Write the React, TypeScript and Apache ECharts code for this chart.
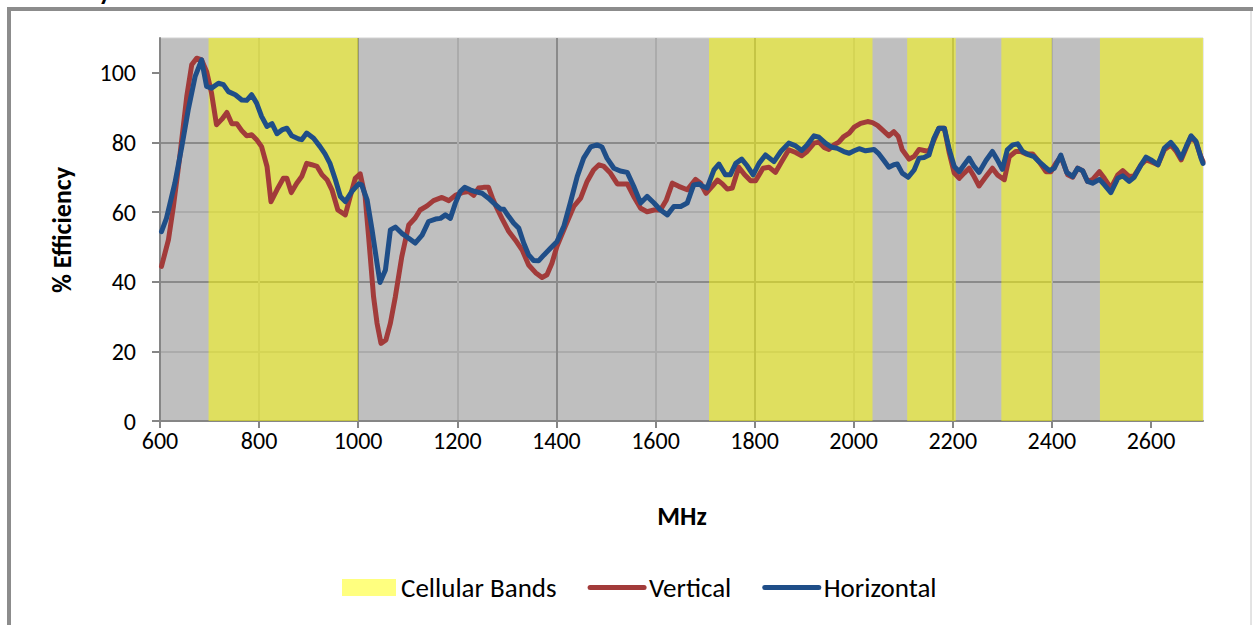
import React, { useEffect, useRef } from "react";
import * as echarts from "echarts";

// Measured radiated efficiency (%) against frequency (MHz), two polarisations
const verticalSeries: number[][] = [
  [603, 44.4], [617, 52], [627, 61.6], [640, 76], [654, 93.2], [664, 102.3], [674, 104.2], [684, 103.7],
  [694, 100.4], [704, 94.2], [714, 85.1], [725, 86.7], [735, 88.6], [745, 85.4], [755, 85.4], [765, 83.4],
  [775, 81.9], [785, 82.2], [795, 80.8], [805, 78.8], [816, 73.1], [824, 63.0], [836, 66.4], [849, 69.7],
  [856, 69.7], [865, 65.6], [876, 68.3], [886, 70.2], [896, 74.0], [906, 73.6], [917, 73.1], [927, 70.7],
  [937, 69.3], [947, 66.4], [959, 60.6], [974, 59.2], [984, 64.5], [994, 69.7], [1004, 71], [1014, 64.5],
  [1021, 53], [1031, 35.7], [1038, 28.1], [1046, 22.3], [1056, 23.3], [1065, 28.1], [1075, 35.7], [1088, 47.2],
  [1102, 56.3], [1115, 58.3], [1125, 60.6], [1139, 61.8], [1152, 63.3], [1169, 64.2], [1183, 63.3], [1196, 64.8],
  [1210, 65.6], [1223, 65.9], [1233, 64.8], [1243, 66.9], [1253, 67.1], [1263, 67.1], [1271, 64], [1280, 61.1],
  [1290, 58.2], [1304, 54.4], [1317, 52], [1331, 49.1], [1344, 44.8], [1358, 42.6], [1371, 41.2], [1381, 42],
  [1391, 45.3], [1401, 50.1], [1418, 55.9], [1435, 61.6], [1449, 64], [1462, 68.8], [1475, 72.1], [1486, 73.6],
  [1496, 73.1], [1509, 71.2], [1523, 68.1], [1543, 68.1], [1556, 64.5], [1570, 61.1], [1583, 60.1], [1597, 60.6],
  [1610, 60.6], [1622, 63.5], [1634, 68.3], [1647, 67.4], [1664, 66.4], [1681, 69.4], [1691, 68.3], [1702, 65.4],
  [1714, 67.3], [1725, 69.2], [1735, 68.1], [1745, 66.6], [1755, 66.9], [1768, 72.9], [1780, 70.7], [1792, 69.0],
  [1802, 69.0], [1817, 72.6], [1829, 72.9], [1842, 71.4], [1856, 74.8], [1869, 77.9], [1883, 77.1], [1895, 76.2],
  [1906, 77.4], [1920, 79.8], [1930, 80.1], [1940, 78.6], [1950, 78.0], [1960, 79.3], [1970, 80.1], [1980, 81.7],
  [1991, 82.7], [2001, 84.4], [2014, 85.5], [2028, 86], [2038, 85.7], [2048, 84.9], [2058, 83.6], [2071, 81.9],
  [2081, 83.1], [2090, 81.7], [2098, 77.9], [2112, 75.2], [2122, 76], [2132, 78.0], [2142, 77.7], [2152, 77.4],
  [2162, 80.7], [2172, 84.1], [2183, 84.1], [2193, 76.9], [2203, 71.2], [2213, 69.7], [2223, 71.2], [2233, 72.6],
  [2243, 70.2], [2253, 67.5], [2267, 70.2], [2280, 72.6], [2290, 70.7], [2304, 69.3], [2314, 75.9], [2327, 77.4],
  [2337, 77.4], [2348, 76.7], [2361, 76.7], [2374, 74.5], [2388, 71.6], [2398, 71.6], [2408, 74], [2418, 75.9],
  [2432, 70.7], [2442, 70], [2452, 72.6], [2462, 71.9], [2472, 68.8], [2482, 69.3], [2496, 71.6], [2506, 69.7],
  [2519, 66.9], [2533, 70.7], [2543, 71.9], [2556, 70.2], [2566, 70.4], [2580, 73.6], [2590, 75], [2600, 74.5],
  [2614, 73.6], [2627, 77.9], [2640, 79.3], [2651, 77.4], [2661, 75], [2671, 78.4], [2681, 81.7], [2691, 80],
  [2701, 75.8], [2705, 74.5],
];

const horizontalSeries: number[][] = [
  [603, 54.4], [613, 58.2], [630, 68.3], [644, 78.8], [657, 89.4], [671, 99], [684, 103.7], [694, 96.1],
  [704, 95.6], [718, 97.0], [728, 96.6], [738, 94.6], [752, 93.7], [765, 92.2], [775, 92.1], [785, 93.7],
  [795, 91.3], [805, 87.5], [816, 84.6], [826, 85.4], [836, 82.5], [846, 83.6], [856, 84.1], [866, 81.9],
  [880, 81], [886, 80.8], [896, 82.7], [910, 81.2], [923, 78.8], [933, 76.7], [943, 74.0], [954, 69.3],
  [964, 64.5], [974, 63.0], [987, 65.9], [1001, 68.1], [1007, 67.8], [1018, 63.5], [1028, 54.9], [1038, 45.3],
  [1044, 39.8], [1055, 43.4], [1065, 54.9], [1075, 55.7], [1088, 53.9], [1102, 52.5], [1115, 51.1], [1129, 53.4],
  [1142, 57.3], [1156, 58.0], [1166, 58.2], [1176, 59.2], [1186, 58.2], [1196, 62.5], [1206, 65.9], [1215, 67.1],
  [1226, 66.4], [1236, 65.9], [1250, 65.4], [1263, 64], [1277, 62.1], [1287, 60.9], [1294, 60.8], [1304, 58.7],
  [1314, 56.8], [1324, 55.4], [1334, 51.1], [1344, 47.7], [1354, 46.1], [1364, 46.0], [1375, 47.7], [1388, 49.6],
  [1401, 51.5], [1415, 55.9], [1428, 62.6], [1442, 70.2], [1455, 75.5], [1469, 78.7], [1482, 79.3], [1492, 78.7],
  [1502, 75.5], [1516, 72.6], [1529, 71.8], [1543, 71.4], [1556, 67.4], [1570, 62.6], [1583, 64.5], [1597, 62.6],
  [1610, 60.6], [1624, 59.2], [1637, 61.6], [1651, 61.6], [1664, 62.6], [1677, 67.8], [1688, 68.1], [1694, 67.5],
  [1704, 66.9], [1718, 72.1], [1728, 73.8], [1741, 70.7], [1751, 70.7], [1762, 74.0], [1774, 75.2], [1785, 73.3],
  [1797, 70.7], [1809, 74], [1822, 76.4], [1839, 74.5], [1853, 77.4], [1869, 79.8], [1883, 79], [1895, 77.7],
  [1906, 79.3], [1920, 81.9], [1930, 81.5], [1943, 79.8], [1956, 78.6], [1967, 78.3], [1980, 77.4], [1991, 76.9],
  [2001, 77.6], [2011, 78.2], [2024, 77.6], [2041, 78.0], [2051, 76.7], [2061, 74.8], [2071, 72.9], [2081, 73.6],
  [2088, 73.8], [2098, 71.2], [2110, 70], [2122, 72.1], [2132, 75.5], [2142, 75.7], [2152, 76.4], [2162, 81.2],
  [2172, 84.1], [2183, 84.1], [2193, 77.9], [2203, 73.1], [2213, 71.6], [2223, 73.6], [2233, 75.5], [2243, 73.1],
  [2253, 71.4], [2267, 74.8], [2280, 77.4], [2290, 75.0], [2300, 72.3], [2310, 77.9], [2321, 79.3], [2331, 79.6],
  [2341, 77.4], [2354, 76.4], [2364, 75.9], [2374, 74.5], [2385, 73.1], [2395, 71.9], [2405, 72.6], [2418, 76.4],
  [2430, 71.4], [2442, 70.2], [2452, 72.6], [2462, 71.9], [2472, 68.8], [2482, 68.3], [2496, 69.4], [2506, 67.8],
  [2519, 65.6], [2533, 69.7], [2543, 70.4], [2556, 68.8], [2566, 70], [2580, 73.6], [2590, 75.8], [2600, 75],
  [2614, 73.6], [2627, 78.4], [2640, 80], [2651, 78.1], [2661, 75.5], [2671, 78.8], [2681, 81.9], [2691, 80.3],
  [2701, 75.5], [2705, 74.0],
];

// Cellular frequency bands [start MHz, end MHz]
const cellularBands: number[][] = [
  [698, 1000], [1708, 2038], [2108, 2206], [2298, 2400], [2497, 2705],
];

// Axis ranges and labelled ticks
const freqRange = [600, 2705];
const effRange = [0, 110];
const freqTicks = [600, 800, 1000, 1200, 1400, 1600, 1800, 2000, 2200, 2400, 2600];
const effTicks = [0, 20, 40, 60, 80, 100];

const FONT = "Carlito, Calibri, Lato, sans-serif";
const RED = "#A23B3A";
const BLUE = "#1F4E88";

export default function App() {
  const ref = useRef<HTMLDivElement>(null);

  useEffect(() => {
    if (!ref.current) return;
    const chart = echarts.init(ref.current, undefined, { renderer: "svg" });

    const majorColor = "#8A8A8A";
    const minorColor = "#ABABAB";

    chart.setOption({
      animation: false,
      backgroundColor: "#FFFFFF",
      textStyle: { fontFamily: FONT },
      grid: {
        left: 160,
        right: 52,
        top: 38,
        bottom: 204,
        show: true,
        backgroundColor: "#BFBFBF",
        borderColor: "#D2D2D2",
        borderWidth: 1,
        outerBoundsMode: "none",
      },
      xAxis: {
        type: "value",
        min: freqRange[0],
        max: freqRange[1],
        interval: 100,
        axisLine: { show: true, onZero: false, lineStyle: { color: "#868686", width: 2 } },
        axisTick: { show: true, length: 7, customValues: freqTicks, lineStyle: { color: "#868686", width: 2 } },
        axisLabel: {
          customValues: freqTicks,
          formatter: (v: number) => String(v),
          fontSize: 24,
          color: "#000000",
          margin: 7,
          fontFamily: FONT,
        },
        splitLine: {
          show: true,
          showMaxLine: false,
          lineStyle: { color: [majorColor, minorColor], width: 2 },
        },
      },
      yAxis: {
        type: "value",
        min: effRange[0],
        max: effRange[1],
        interval: 10,
        axisLine: { show: true, lineStyle: { color: "#868686", width: 2 } },
        axisTick: { show: true, length: 8, customValues: effTicks, lineStyle: { color: "#868686", width: 2 } },
        axisLabel: {
          customValues: effTicks,
          formatter: (v: number) => String(v),
          fontSize: 24,
          color: "#000000",
          margin: 24,
          fontFamily: FONT,
        },
        splitLine: {
          show: true,
          showMaxLine: false,
          lineStyle: { color: [majorColor, minorColor], width: 2 },
        },
      },
      legend: {
        left: 342,
        top: 574,
        padding: 0,
        itemWidth: 54,
        itemHeight: 17,
        itemGap: 31,
        selectedMode: false,
        textStyle: { fontSize: 27, color: "#000000", fontFamily: FONT },
        data: [
          { name: "Cellular Bands", icon: "rect" },
          { name: "Vertical", itemStyle: { opacity: 0 }, lineStyle: { width: 5, cap: "round" } },
          { name: "Horizontal", itemStyle: { opacity: 0 }, lineStyle: { width: 5, cap: "round" } },
        ],
      },
      series: [
        {
          name: "Cellular Bands",
          type: "custom",
          z: 1,
          clip: true,
          itemStyle: { color: "rgba(255,255,0,0.5)" },
          encode: { x: [0, 1] },
          data: cellularBands,
          renderItem: (params: any, api: any) => {
            const start = api.coord([api.value(0), 0]);
            const end = api.coord([api.value(1), 0]);
            const cs = params.coordSys;
            return {
              type: "rect",
              shape: { x: start[0], y: cs.y, width: end[0] - start[0], height: cs.height },
              style: { fill: api.visual("color") },
            };
          },
        },
        {
          name: "Vertical",
          type: "line",
          z: 3,
          symbol: "none",
          showSymbol: false,
          data: verticalSeries,
          itemStyle: { color: RED },
          lineStyle: { color: RED, width: 5, join: "round", cap: "round" },
        },
        {
          name: "Horizontal",
          type: "line",
          z: 4,
          symbol: "none",
          showSymbol: false,
          data: horizontalSeries,
          itemStyle: { color: BLUE },
          lineStyle: { color: BLUE, width: 5, join: "round", cap: "round" },
        },
      ],
      graphic: [
        // chart frame
        { type: "rect", z: 0, shape: { x: 9, y: 9, width: 1242, height: 640 }, style: { fill: "none", stroke: "#C8C8C8", lineWidth: 1 } },
        { type: "line", z: 0, shape: { x1: 7, y1: 9, x2: 1253, y2: 9 }, style: { stroke: "#8C8C8C", lineWidth: 4 } },
        { type: "line", z: 0, shape: { x1: 9, y1: 7, x2: 9, y2: 625 }, style: { stroke: "#8C8C8C", lineWidth: 4 } },
        // chart title sitting above the visible area
        {
          type: "text",
          x: 111,
          y: 4,
          style: {
            text: "Efficiency",
            font: `bold 26px ${FONT}`,
            fill: "#000000",
            textAlign: "right",
            textVerticalAlign: "bottom",
          },
        },
        // axis titles
        {
          type: "text",
          x: 62,
          y: 230,
          rotation: Math.PI / 2,
          style: {
            text: "% Efficiency",
            font: `bold 26px ${FONT}`,
            fill: "#000000",
            textAlign: "center",
            textVerticalAlign: "middle",
          },
        },
        {
          type: "text",
          x: 682,
          y: 516,
          style: {
            text: "MHz",
            font: `bold 26px ${FONT}`,
            fill: "#000000",
            textAlign: "center",
            textVerticalAlign: "middle",
          },
        },
      ],
    });

    return () => chart.dispose();
  }, []);

  return (
    <div
      ref={ref}
      style={{ position: "fixed", left: 0, top: 0, width: 1255, height: 625, background: "#FFFFFF" }}
    />
  );
}
